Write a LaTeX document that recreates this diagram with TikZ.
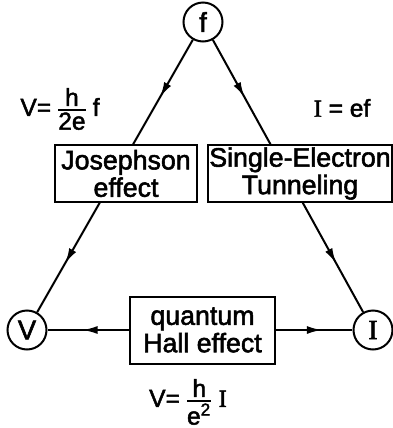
\documentclass[tikz,border=0pt]{standalone}
\usepackage{amsmath}
\usepackage{fontspec}
\setmainfont{Liberation Sans}[FakeBold=2]
\newfontfamily\romanI{Liberation Serif}[FakeBold=2]
\usepackage{tikz}
\usetikzlibrary{arrows.meta, positioning, backgrounds, decorations.markings}
\newcommand{\curI}{{\romanI I}}
\newcommand{\tfr}[2]{\genfrac{}{}{0.8pt}{1}{\hbox{#1}}{\hbox{#2}}}
\tikzset{
  quantity/.style={
    circle, draw, line width=0.8pt,
    minimum size=15.6pt, inner sep=0pt,
    font=\fontsize{11}{10}\selectfont,
  },
  effect/.style={
    rectangle, draw, line width=0.8pt, fill=white,
    minimum height=22.8pt, inner sep=0pt,
    align=center, font=\fontsize{10.7}{9.8}\selectfont,
  },
  relation/.style={inner sep=0pt, font=\fontsize{9.8}{11}\selectfont},
  link/.style={line width=0.8pt},
  flowone/.style={postaction={decorate},
    decoration={markings,
      mark=at position #1 with {\arrow{Latex[length=6pt,width=3.2pt]}}}},
  flowtwo/.style 2 args={postaction={decorate},
    decoration={markings,
      mark=at position #1 with {\arrow{Latex[length=6pt,width=3.2pt]}},
      mark=at position #2 with {\arrow{Latex[length=6pt,width=3.2pt]}}}},
}

\begin{document}
\begin{tikzpicture}[x=0.4pt, y=-0.4pt]
  \useasboundingbox (0,0) rectangle (393,428);

  % quantities
  \node[quantity] (f) at (203,22) {f};
  \node[quantity] (V) at (27,330) {V};
  \node[quantity] (I) at (373,330) {\curI};

  % effects
  \node[effect, minimum width=56.8pt] (jos) at (126,173.5) {Josephson\\effect};
  \node[effect, minimum width=73.6pt] (set) at (300,173.5) {Single-Electron\\Tunneling};
  \node[effect, minimum width=58pt, minimum height=26.8pt] (hall) at (202.5,330) {quantum\\Hall effect};

  % relations
  \node[relation] (josrel) at (60,109) {$\hbox{V=}\,\tfr{h}{2e}\,\hbox{f}$};
  \node[relation] (setrel) at (342,108) {\curI{} = ef};
  \node[relation] (hallrel) at (188,402) {$\hbox{V=}\,\tfr{h}{e\textsuperscript{2}}\,\hbox{\curI}$};

  \begin{scope}[on background layer]
    \draw[link, flowtwo={0.21}{0.82}] (f) -- (V);
    \draw[link, flowtwo={0.21}{0.82}] (f) -- (I);
    \draw[link, flowone=0.57] (hall) -- (V);
    \draw[link, flowone=0.6] (hall) -- (I);
  \end{scope}

\end{tikzpicture}
\end{document}
